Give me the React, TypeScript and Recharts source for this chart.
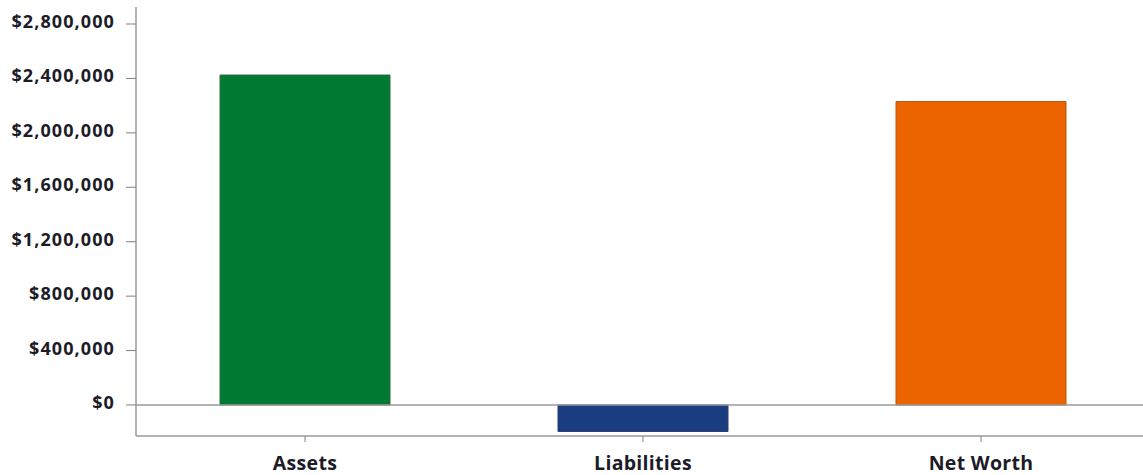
import React from "react";
import { BarChart, Bar, XAxis, YAxis, ReferenceLine, Cell } from "recharts";

const categories = ["Assets", "Liabilities", "Net Worth"];
const values = [2425000, -195000, 2230000];
const yTicks = [0, 400000, 800000, 1200000, 1600000, 2000000, 2400000, 2800000];
const fills = ["#007A33", "#1A3C80", "#EB6400"];
const strokes = ["#2F6B3E", "#2A3F70", "#B9570F"];

const data = categories.map((c, i) => ({ name: c, value: values[i] }));

const fmt = (v: number) => "$" + v.toLocaleString("en-US");

const font = "'Open Sans', 'Noto Sans', sans-serif";
const textColor = "#1c1c28";

const YTick = (props: any) => {
  const { x, y, payload } = props;
  return (
    <text x={x} y={y + 4} textAnchor="end" fill={textColor} fontSize={18} fontWeight={700} fontFamily={font} letterSpacing={1.1}>
      {fmt(payload.value)}
    </text>
  );
};

const XTick = (props: any) => {
  const { x, y, payload } = props;
  return (
    <text x={x} y={y + 28} textAnchor="middle" fill={textColor} fontSize={19.5} fontWeight={700} fontFamily={font} letterSpacing={0.3}>
      {payload.value}
    </text>
  );
};

export default function App() {
  return (
    <div style={{ position: "absolute", left: 0, top: 0, width: 1143, height: 475, overflow: "hidden", background: "#fff" }}>
      <BarChart
        width={1152}
        height={475}
        data={data}
        margin={{ top: 7, right: 2, bottom: 0, left: 0 }}
        barSize={170}
      >
        <XAxis
          dataKey="name"
          height={39}
          axisLine={{ stroke: "#9a9a9a", strokeWidth: 1.5 }}
          tickLine={{ stroke: "#808080" }}
          tickSize={6}
          tickMargin={0}
          tick={<XTick />}
        />
        <YAxis
          width={136}
          domain={[-228000, 2925000]}
          allowDataOverflow
          ticks={yTicks}
          axisLine={{ stroke: "#9a9a9a", strokeWidth: 1.5 }}
          tickLine={{ stroke: "#808080" }}
          tickSize={10}
          tickMargin={11}
          tick={<YTick />}
        />
        <ReferenceLine y={0} stroke="#9a9a9a" strokeWidth={1.5} />
        <Bar dataKey="value" isAnimationActive={false}>
          {data.map((d, i) => (
            <Cell key={d.name} fill={fills[i]} stroke={strokes[i]} strokeWidth={1} />
          ))}
        </Bar>
      </BarChart>
    </div>
  );
}
